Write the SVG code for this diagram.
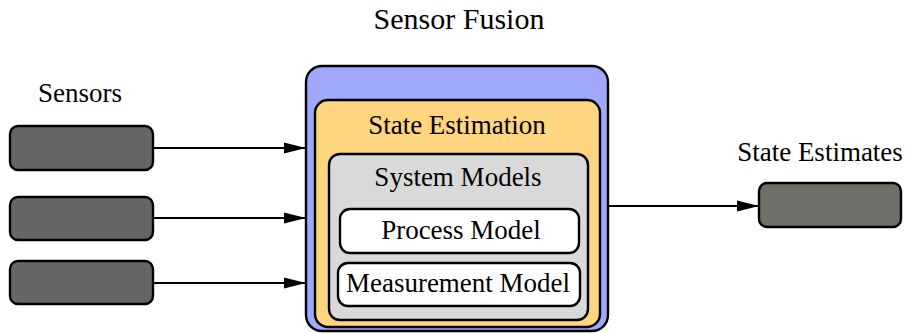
<svg xmlns="http://www.w3.org/2000/svg" width="905" height="333" viewBox="0 0 905 333" font-family="'Liberation Serif', 'Times New Roman', Times, 'DejaVu Serif', serif">
  <style>
    text { fill: #000; }
    .lbl { font-size: 27px; text-anchor: middle; }
    .title { font-size: 30px; text-anchor: middle; }
    .box { stroke: #000; stroke-width: 2.4; }
    .edge { stroke: #000; stroke-width: 2.2; fill: none; marker-end: url(#arrow); }
  </style>
  <defs>
    <marker id="arrow" markerUnits="userSpaceOnUse" markerWidth="24" markerHeight="14" refX="22" refY="7" orient="auto">
      <path d="M0,1.5 L22,7 L0,12.5 Z" fill="#000"/>
    </marker>
  </defs>
  <rect width="905" height="333" fill="#fff"/>

  <!-- titles -->
  <text class="title" x="459" y="29">Sensor Fusion</text>
  <text class="lbl" x="80" y="102">Sensors</text>
  <text class="lbl" x="820" y="161">State Estimates</text>

  <!-- sensor inputs -->
  <g id="sensor1"><rect class="box" x="10" y="126" width="143" height="44" rx="8" fill="#666666"/></g>
  <g id="sensor2"><rect class="box" x="10" y="197" width="143" height="43" rx="8" fill="#666666"/></g>
  <g id="sensor3"><rect class="box" x="10" y="261" width="143" height="43" rx="8" fill="#666666"/></g>

  <!-- fusion block with nested stages -->
  <g id="sensor-fusion">
    <rect class="box" x="306" y="66" width="302" height="265" rx="16" fill="#A0A8FC"/>
  </g>
  <g id="state-estimation">
    <rect class="box" x="315" y="100" width="285" height="227" rx="13" fill="#FFD580"/>
    <text class="lbl" x="457" y="134">State Estimation</text>
  </g>
  <g id="system-models">
    <rect class="box" x="329" y="154" width="259" height="166" rx="11" fill="#D9D9D9"/>
    <text class="lbl" x="458" y="186">System Models</text>
  </g>
  <g id="process-model">
    <rect class="box" x="340" y="209" width="239" height="44" rx="10" fill="#FFFFFF"/>
    <text class="lbl" x="461" y="239">Process Model</text>
  </g>
  <g id="measurement-model">
    <rect class="box" x="338" y="263" width="242" height="43" rx="10" fill="#FFFFFF"/>
    <text class="lbl" x="458" y="292">Measurement Model</text>
  </g>

  <!-- output -->
  <g id="state-estimates"><rect class="box" x="759" y="183" width="142" height="44" rx="8" fill="#6F6E68"/></g>

  <!-- connectors -->
  <g id="connectors">
    <line class="edge" x1="153" y1="148" x2="306" y2="148"/>
    <line class="edge" x1="153" y1="218" x2="306" y2="218"/>
    <line class="edge" x1="153" y1="283" x2="306" y2="283"/>
    <line class="edge" x1="608" y1="206" x2="759" y2="206"/>
  </g>
</svg>
